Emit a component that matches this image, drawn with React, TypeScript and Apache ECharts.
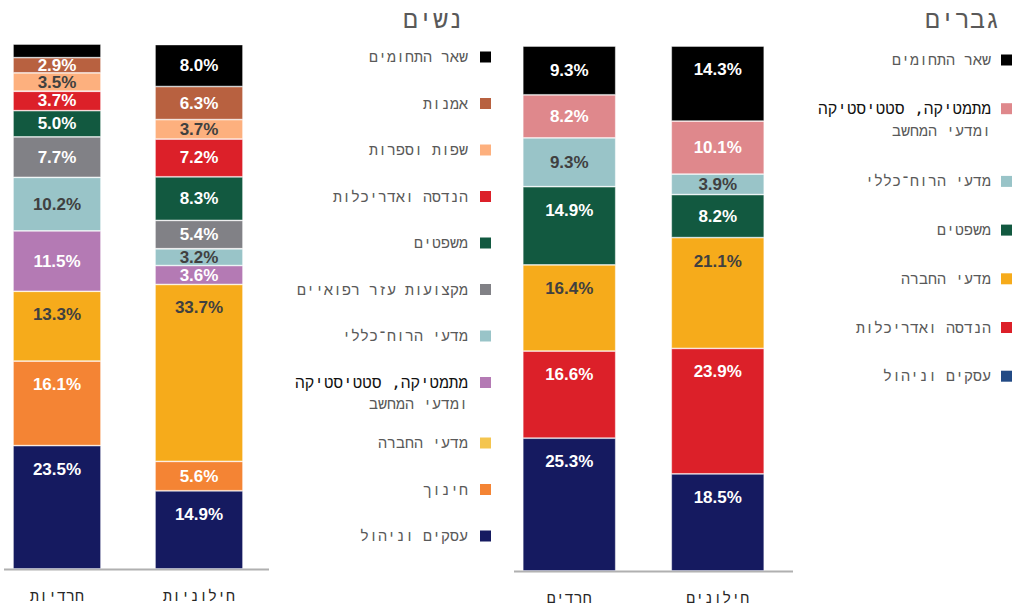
import React, { useEffect, useRef } from "react";
import * as echarts from "echarts";

// ---------- data ----------
const womenCats = ["חרדיות", "חילוניות"];
const menCats = ["חרדים", "חילונים"];

// bottom -> top stacking order
const womenFields = [
  "עסקים וניהול",
  "חינוך",
  "מדעי החברה",
  "מתמטיקה, סטטיסטיקה ומדעי המחשב",
  "מדעי הרוח־כללי",
  "מקצועות עזר רפואיים",
  "משפטים",
  "הנדסה ואדריכלות",
  "שפות וספרות",
  "אמנות",
  "שאר התחומים",
];
const womenHaredi = [23.5, 16.1, 13.3, 11.5, 10.2, 7.7, 5.0, 3.7, 3.5, 2.9, 2.6];
const womenSecular = [14.9, 5.6, 33.7, 3.6, 3.2, 5.4, 8.3, 7.2, 3.7, 6.3, 8.0];

const menFields = [
  "עסקים וניהול",
  "הנדסה ואדריכלות",
  "מדעי החברה",
  "משפטים",
  "מדעי הרוח־כללי",
  "מתמטיקה, סטטיסטיקה ומדעי המחשב",
  "שאר התחומים",
];
const menHaredi = [25.3, 16.6, 16.4, 14.9, 9.3, 8.2, 9.3];
const menSecular = [18.5, 23.9, 21.1, 8.2, 3.9, 10.1, 14.3];

const womenTitle = "נשים";
const menTitle = "גברים";

// ---------- styles ----------
const barColors: Record<string, string> = {
  "עסקים וניהול": "#151a60",
  "חינוך": "#f48434",
  "מדעי החברה": "#f6ab1b",
  "מתמטיקה, סטטיסטיקה ומדעי המחשב": "#b47ab4",
  "מדעי הרוח־כללי": "#99c4c8",
  "מקצועות עזר רפואיים": "#818186",
  "משפטים": "#125940",
  "הנדסה ואדריכלות": "#dc2029",
  "שפות וספרות": "#fdb07e",
  "אמנות": "#b86140",
  "שאר התחומים": "#000000",
};
const menMathColor = "#df888c";
const womenLegendOverride: Record<string, string> = { "מדעי החברה": "#f4c54f" };
const menLegendOverride: Record<string, string> = { "עסקים וניהול": "#224a85" };
const lightFields = ["מדעי הרוח־כללי", "מדעי החברה", "שפות וספרות"];

const MONO = "'DejaVu Sans Mono', 'Liberation Mono', monospace";
const SANS = "'Liberation Sans', Arial, sans-serif";

function barColor(field: string, men: boolean) {
  if (men && field.startsWith("מתמטיקה")) return menMathColor;
  return barColors[field];
}

function makeData(values: number[], field: string) {
  const dark = lightFields.includes(field);
  return values.map((v) => ({
    value: v,
    label: {
      show: v >= 2.8,
      position: v >= 12.5 ? "insideTop" : "inside",
      distance: 15,
      color: dark ? "#404040" : "#ffffff",
    },
  }));
}

function buildSeries(fields: string[], a: number[], b: number[], men: boolean) {
  return fields.map((f, i) => ({
    type: "bar",
    id: (men ? "m-" : "w-") + i,
    name: f,
    stack: men ? "men" : "women",
    xAxisIndex: men ? 1 : 0,
    yAxisIndex: men ? 1 : 0,
    barWidth: men ? 93 : 88,
    itemStyle: {
      color: barColor(f, men),
      borderColor: "rgba(255,255,255,0.55)",
      borderWidth: 0.8,
    },
    label: {
      fontFamily: SANS,
      fontWeight: "bold",
      fontSize: 17,
      formatter: (p: any) => Number(p.value).toFixed(1) + "%",
    },
    emphasis: { disabled: true },
    data: makeData([a[i], b[i]], f),
  }));
}

function buildLegend(
  fields: string[],
  men: boolean,
  textRight: number,
  boxLeft: number,
  startY: number,
  step: number,
  extra: number,
  line2: number
) {
  const els: any[] = [];
  const top = fields.slice().reverse();
  let offset = 0;
  top.forEach((f, i) => {
    const y = startY + i * step + offset;
    const override = men ? menLegendOverride : womenLegendOverride;
    const col = override[f] || barColor(f, men);
    els.push({
      type: "rect",
      silent: true,
      shape: { x: boxLeft, y: y - 5.5, width: 11, height: 11 },
      style: { fill: col },
    });
    const parts = f.startsWith("מתמטיקה")
      ? ["מתמטיקה, סטטיסטיקה", "ומדעי המחשב"]
      : [f];
    parts.forEach((t, j) => {
      const strong = parts.length > 1 && j === 0;
      els.push({
        type: "text",
        silent: true,
        style: {
          text: t,
          x: textRight,
          y: y + j * line2,
          textAlign: "right",
          textVerticalAlign: "middle",
          fontFamily: MONO,
          fontSize: strong ? 16 : 15,
          fontWeight: "normal",
          fill: strong ? "#111111" : "#595959",
        },
      });
    });
    if (parts.length > 1) offset += extra;
  });
  return els;
}

export default function App() {
  const ref = useRef<HTMLDivElement>(null);
  useEffect(() => {
    document.body.style.margin = "0";
    if (!ref.current) return;
    const chart = echarts.init(ref.current, undefined, { renderer: "svg" });
    const axisLabel = {
      fontFamily: MONO,
      fontSize: 15,
      color: "#262626",
      margin: 19,
    };
    const option: any = {
      animation: false,
      grid: [
        { left: -14, width: 284, top: 44, height: 525, outerBoundsMode: "none", containLabel: false },
        { left: 495, width: 297, top: 46, height: 525, outerBoundsMode: "none", containLabel: false },
      ],
      xAxis: [
        {
          type: "category",
          gridIndex: 0,
          data: womenCats,
          axisLine: { show: false },
          axisTick: { show: false },
          axisLabel,
        },
        {
          type: "category",
          gridIndex: 1,
          data: menCats,
          axisLine: { show: false },
          axisTick: { show: false },
          axisLabel,
        },
      ],
      yAxis: [
        { type: "value", gridIndex: 0, min: 0, max: 100, show: false },
        { type: "value", gridIndex: 1, min: 0, max: 100, show: false },
      ],
      series: [
        ...buildSeries(womenFields, womenHaredi, womenSecular, false),
        ...buildSeries(menFields, menHaredi, menSecular, true),
      ],
      graphic: [
        {
          type: "line",
          silent: true,
          shape: { x1: 4, y1: 569.5, x2: 269, y2: 569.5 },
          style: { stroke: "#b0b0b0", lineWidth: 2 },
        },
        {
          type: "line",
          silent: true,
          shape: { x1: 514, y1: 571.5, x2: 793, y2: 571.5 },
          style: { stroke: "#b0b0b0", lineWidth: 2 },
        },
        {
          type: "text",
          silent: true,
          style: {
            text: womenTitle,
            x: 463,
            y: 19,
            textAlign: "right",
            textVerticalAlign: "middle",
            fontFamily: MONO,
            fontSize: 25,
            fill: "#595959",
          },
        },
        {
          type: "text",
          silent: true,
          style: {
            text: menTitle,
            x: 1000,
            y: 19,
            textAlign: "right",
            textVerticalAlign: "middle",
            fontFamily: MONO,
            fontSize: 25,
            fill: "#595959",
          },
        },
        ...buildLegend(womenFields, false, 468, 480, 57, 46.5, 14, 21),
        ...buildLegend(menFields, true, 991, 1001, 60, 48.7, 24, 22),
      ],
    };
    chart.setOption(option);
    return () => chart.dispose();
  }, []);
  return <div ref={ref} style={{ width: 1024, height: 606 }} />;
}
